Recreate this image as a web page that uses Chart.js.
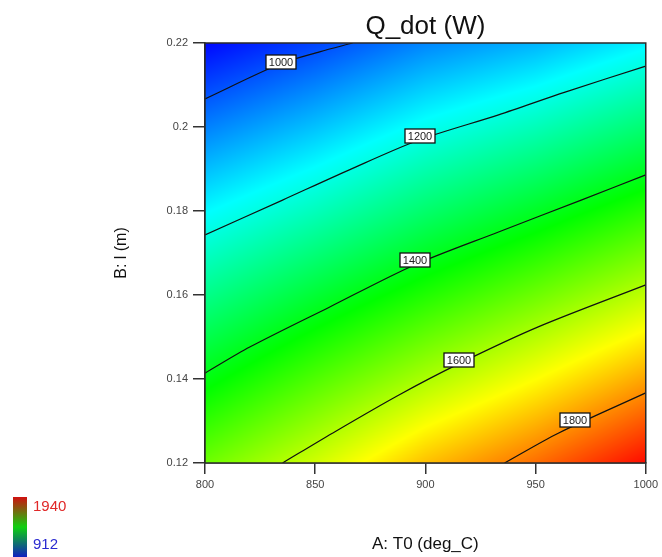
<html><head><meta charset="utf-8">
<script src="https://cdn.jsdelivr.net/npm/chart.js@4"></script>
<style>body{margin:0;background:#fff}</style>
</head>
<body>
<canvas id="myChart" width="662" height="557"></canvas>
<script>
// axes
var X_TICKS = [800, 850, 900, 950, 1000];
var Y_TICKS = [0.12, 0.14, 0.16, 0.18, 0.2, 0.22];
var TITLE = 'Q_dot (W)';

// response surface at the tick grid (rows = Y_TICKS, cols = X_TICKS)
var Q_012 = [1535, 1636, 1747, 1830, 1930];
var Q_014 = [1409, 1505, 1598, 1682, 1774];
var Q_016 = [1287, 1373, 1457, 1535, 1618];
var Q_018 = [1165, 1237, 1318, 1388, 1466];
var Q_020 = [1041, 1107, 1182, 1240, 1312];
var Q_022 = [918, 979, 1047, 1093, 1158];
var Q_GRID = [Q_012, Q_014, Q_016, Q_018, Q_020, Q_022];
var Q_MIN = 912, Q_MAX = 1940;

// contour lines
var LEVELS = [1000, 1200, 1400, 1600, 1800];
var C1000_T = [800, 834, 852, 867];
var C1000_L = [0.2067, 0.2150, 0.2179, 0.2200];
var C1200_T = [800, 835.2, 865.5, 897.1, 933.2, 963.4, 1000];
var C1200_L = [0.1743, 0.1826, 0.1898, 0.1969, 0.2029, 0.2083, 0.2145];
var C1400_T = [800, 820.3, 856.4, 894.8, 933.2, 970.7, 1000];
var C1400_L = [0.1414, 0.1476, 0.1571, 0.1671, 0.1750, 0.1826, 0.1886];
var C1600_T = [835.2, 857.8, 888.0, 915.1, 951.2, 1000];
var C1600_L = [0.1200, 0.1271, 0.1362, 0.1436, 0.1524, 0.1624];
var C1800_T = [935.9, 960.3, 1000];
var C1800_L = [0.1200, 0.1271, 0.1367];
var CONTOUR_T = [C1000_T, C1200_T, C1400_T, C1600_T, C1800_T];
var CONTOUR_L = [C1000_L, C1200_L, C1400_L, C1600_L, C1800_L];
// where each level label sits
var LABEL_T = [834.3, 897.5, 895.3, 915.1, 968.0];
var LABEL_L = [0.2155, 0.1979, 0.1683, 0.1445, 0.1302];

var FONT = "'Liberation Sans', Arial, sans-serif";

function qAt(t, l) {
  var xs = X_TICKS, ys = Y_TICKS;
  var i = 0, j = 0;
  while (i < xs.length - 2 && t > xs[i + 1]) i++;
  while (j < ys.length - 2 && l > ys[j + 1]) j++;
  var u = (t - xs[i]) / (xs[i + 1] - xs[i]);
  var v = (l - ys[j]) / (ys[j + 1] - ys[j]);
  u = Math.max(0, Math.min(1, u)); v = Math.max(0, Math.min(1, v));
  var a = Q_GRID[j][i], b = Q_GRID[j][i + 1], c = Q_GRID[j + 1][i], d = Q_GRID[j + 1][i + 1];
  return a * (1 - u) * (1 - v) + b * u * (1 - v) + c * (1 - u) * v + d * u * v;
}

// blue -> cyan -> green -> yellow -> red
var STOPS = [[0, 0, 255], [0, 255, 255], [0, 255, 0], [255, 255, 0], [255, 0, 0]];
function colorFor(q) {
  var f = (q - Q_MIN) / (Q_MAX - Q_MIN);
  f = Math.max(0, Math.min(1, f)) * 4;
  var k = Math.min(3, Math.floor(f)), r = f - k;
  var s = STOPS[k], e = STOPS[k + 1];
  return [s[0] + (e[0] - s[0]) * r, s[1] + (e[1] - s[1]) * r, s[2] + (e[2] - s[2]) * r];
}

var surfacePlugin = {
  id: 'surface',
  beforeDatasetsDraw: function (chart) {
    var a = chart.chartArea, xs = chart.scales.x, ys = chart.scales.y;
    var w = Math.round(a.right - a.left), h = Math.round(a.bottom - a.top);
    var off = document.createElement('canvas');
    off.width = w; off.height = h;
    var octx = off.getContext('2d');
    var img = octx.createImageData(w, h);
    for (var py = 0; py < h; py++) {
      var l = ys.getValueForPixel(a.top + py + 0.5);
      for (var px = 0; px < w; px++) {
        var t = xs.getValueForPixel(a.left + px + 0.5);
        var c = colorFor(qAt(t, l));
        var p = (py * w + px) * 4;
        img.data[p] = c[0]; img.data[p + 1] = c[1]; img.data[p + 2] = c[2]; img.data[p + 3] = 255;
      }
    }
    octx.putImageData(img, 0, 0);
    chart.ctx.drawImage(off, a.left, a.top);
  },
  afterDatasetsDraw: function (chart) {
    var ctx = chart.ctx, a = chart.chartArea, xs = chart.scales.x, ys = chart.scales.y;
    ctx.save();
    // level labels
    ctx.font = '11px ' + FONT;
    ctx.textAlign = 'center';
    ctx.textBaseline = 'middle';
    for (var i = 0; i < LEVELS.length; i++) {
      var cx = Math.round(xs.getPixelForValue(LABEL_T[i])), cy = Math.round(ys.getPixelForValue(LABEL_L[i]));
      ctx.fillStyle = '#fff';
      ctx.fillRect(cx - 15, cy - 7, 30, 14);
      ctx.strokeStyle = '#111';
      ctx.lineWidth = 1.3;
      ctx.strokeRect(cx - 15, cy - 7, 30, 14);
      ctx.fillStyle = '#222';
      ctx.fillText(String(LEVELS[i]), cx, cy + 0.5);
    }
    // frame
    ctx.strokeStyle = '#2a2a2a';
    ctx.lineWidth = 1.5;
    ctx.strokeRect(a.left, a.top, a.right - a.left, a.bottom - a.top);
    // title, centred over the plot area
    ctx.font = '26px ' + FONT;
    ctx.fillStyle = '#111';
    ctx.fillText(TITLE, (a.left + a.right) / 2, 27);
    ctx.restore();
  },
  afterDraw: function (chart) {
    var ctx = chart.ctx;
    ctx.save();
    var g = ctx.createLinearGradient(0, 497, 0, 557);
    g.addColorStop(0, '#d01010');
    g.addColorStop(0.5, '#10d010');
    g.addColorStop(1, '#1020c0');
    ctx.fillStyle = g;
    ctx.fillRect(13, 497, 14, 60);
    ctx.font = '15px ' + FONT;
    ctx.textAlign = 'left';
    ctx.textBaseline = 'middle';
    ctx.fillStyle = '#e02828';
    ctx.fillText(String(Q_MAX), 33, 507);
    ctx.fillStyle = '#2a2ad0';
    ctx.fillText(String(Q_MIN), 33, 545);
    ctx.restore();
  }
};

var datasets = [];
for (var k = 0; k < LEVELS.length; k++) {
  datasets.push({
    label: String(LEVELS[k]),
    data: CONTOUR_T[k].map(function (t, n) { return {x: t, y: CONTOUR_L[this][n]}; }, k),
    showLine: true,
    borderColor: '#111',
    borderWidth: 1.2,
    pointRadius: 0,
    tension: 0.3,
    fill: false
  });
}

var ctx = document.getElementById('myChart');
var myChart = new Chart(ctx, {
  type: 'scatter',
  data: {datasets: datasets},
  plugins: [surfacePlugin],
  options: {
    responsive: false,
    animation: false,
    layout: {padding: {top: 43, right: 14, left: 0, bottom: 0}},
    plugins: {
      legend: {display: false},
      tooltip: {enabled: false},
      title: {display: false}
    },
    scales: {
      x: {
        type: 'linear', min: 800, max: 1000,
        afterBuildTicks: function (s) { s.ticks = X_TICKS.map(function (v) { return {value: v}; }); },
        afterFit: function (s) { s.height = 94; },
        grid: {drawOnChartArea: false, drawTicks: true, tickLength: 11, color: '#333', lineWidth: 1.5},
        border: {color: '#333', width: 1.5},
        ticks: {color: '#444', padding: 4, maxRotation: 0, font: {family: FONT, size: 11},
          callback: function (v) { return String(v); }},
        title: {display: true, text: 'A: T0 (deg_C)', color: '#111',
          font: {family: FONT, size: 17}, padding: {top: 0, bottom: 2}}
      },
      y: {
        type: 'linear', min: 0.12, max: 0.22,
        afterBuildTicks: function (s) { s.ticks = Y_TICKS.map(function (v) { return {value: v}; }); },
        afterFit: function (s) { s.width = 205; },
        grid: {drawOnChartArea: false, drawTicks: true, tickLength: 12, color: '#333', lineWidth: 1.5},
        border: {color: '#333', width: 1.5},
        ticks: {color: '#444', padding: 5, font: {family: FONT, size: 11},
          callback: function (v) { return String(+v.toFixed(2)); }},
        title: {display: true, text: 'B: l (m)', color: '#111',
          font: {family: FONT, size: 16}, padding: {top: 112, bottom: 0}}
      }
    }
  }
});
</script>
</body></html>
